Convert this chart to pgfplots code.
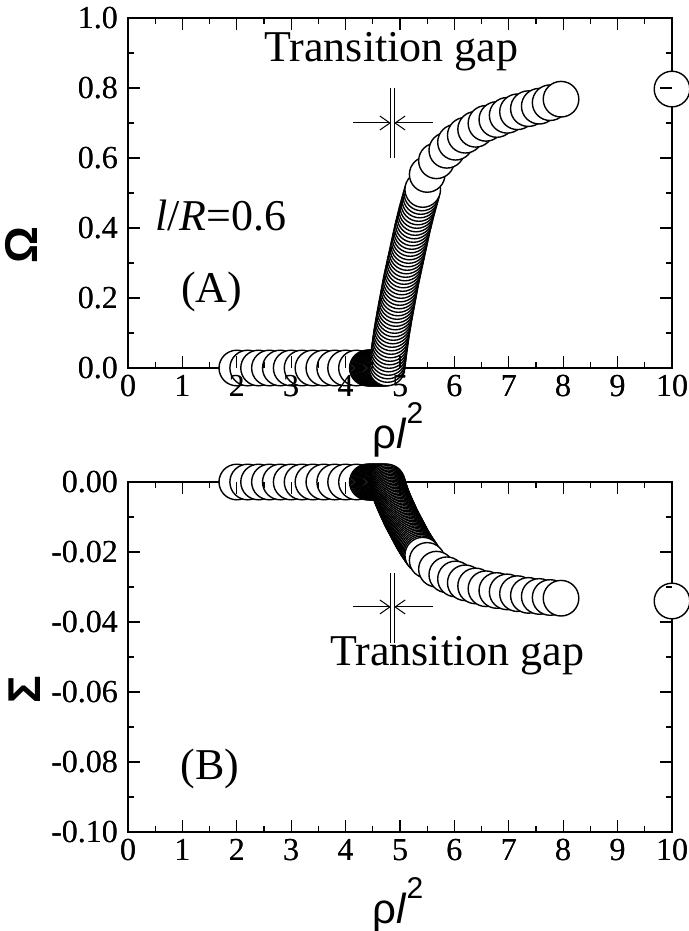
\documentclass[border=0pt]{standalone}
\usepackage{fontspec}
\setmainfont{Liberation Serif}
\newfontfamily\sans{Liberation Sans}
\usepackage{pgfplots}
\pgfplotsset{compat=1.18}
\usetikzlibrary{arrows.meta}

\pgfplotstableread{
x y
2.0 0
2.2 0
2.4 0
2.6 0
2.8 0
3.0 0
3.2 0
3.4 0
3.6 0
3.8 0
4.0 0
4.2 0
4.4 0
4.42 0
4.44 0
4.46 0
4.48 0
4.50 0
4.52 0
4.54 0
4.56 0
4.58 0
4.60 0
4.62 0
4.64 0
4.66 0
4.68 0
4.70 0
4.72 0
4.74 0
4.760 0.00
4.768 0.01
4.776 0.02
4.784 0.03
4.792 0.04
4.800 0.05
4.809 0.06
4.818 0.07
4.827 0.08
4.836 0.09
4.845 0.10
4.856 0.11
4.867 0.12
4.878 0.13
4.889 0.14
4.900 0.15
4.912 0.16
4.924 0.17
4.936 0.18
4.948 0.19
4.960 0.20
4.972 0.21
4.984 0.22
4.996 0.23
5.008 0.24
5.020 0.25
5.034 0.26
5.048 0.27
5.062 0.28
5.076 0.29
5.090 0.30
5.104 0.31
5.118 0.32
5.132 0.33
5.146 0.34
5.160 0.35
5.174 0.36
5.188 0.37
5.202 0.38
5.216 0.39
5.230 0.40
5.246 0.41
5.262 0.42
5.278 0.43
5.294 0.44
5.310 0.45
5.328 0.46
5.346 0.47
5.364 0.48
5.382 0.49
5.400 0.50
5.418 0.51
5.50 0.553
5.67 0.592
5.86 0.622
6.02 0.645
6.20 0.665
6.39 0.682
6.58 0.699
6.78 0.710
6.97 0.722
7.16 0.732
7.36 0.741
7.56 0.748
7.76 0.758
7.96 0.768
10.0 0.797
}\omegadata

\pgfplotstableread{
x y
2.0 0
2.2 0
2.4 0
2.6 0
2.8 0
3.0 0
3.2 0
3.4 0
3.6 0
3.8 0
4.0 0
4.2 0
4.4 0
4.42 0
4.44 0
4.46 0
4.48 0
4.50 0
4.52 0
4.54 0
4.56 0
4.58 0
4.60 0
4.62 0
4.64 0
4.66 0
4.68 0
4.70 0
4.72 0
4.74 0
4.760 0
4.768 -0.00041
4.776 -0.00082
4.784 -0.00123
4.792 -0.00164
4.800 -0.00205
4.809 -0.00246
4.818 -0.00287
4.827 -0.00328
4.836 -0.00369
4.845 -0.0041
4.856 -0.00451
4.867 -0.00492
4.878 -0.00533
4.889 -0.00574
4.900 -0.00615
4.912 -0.00656
4.924 -0.00697
4.936 -0.00738
4.948 -0.00779
4.960 -0.0082
4.972 -0.00861
4.984 -0.00902
4.996 -0.00943
5.008 -0.00984
5.020 -0.01025
5.034 -0.01066
5.048 -0.01107
5.062 -0.01148
5.076 -0.01189
5.090 -0.0123
5.104 -0.01271
5.118 -0.01312
5.132 -0.01353
5.146 -0.01394
5.160 -0.01435
5.174 -0.01476
5.188 -0.01517
5.202 -0.01558
5.216 -0.01599
5.230 -0.0164
5.246 -0.01681
5.262 -0.01722
5.278 -0.01763
5.294 -0.01804
5.310 -0.01845
5.328 -0.01886
5.346 -0.01927
5.364 -0.01968
5.382 -0.02009
5.400 -0.0205
5.418 -0.0209
5.50 -0.0224
5.67 -0.0249
5.86 -0.0265
6.02 -0.0277
6.20 -0.0288
6.39 -0.0297
6.58 -0.0305
6.78 -0.0310
6.97 -0.0314
7.16 -0.0319
7.36 -0.0324
7.56 -0.0327
7.76 -0.0330
7.96 -0.0332
10.0 -0.0340
}\sigmadata

\pgfplotsset{
  panel/.style={
    scale only axis, width=272pt, height=175pt,
    xmin=0, xmax=10,
    xtick={0,1,2,3,4,5,6,7,8,9,10},
    xticklabels={0,1,2,3,4,5,6,7,8,9,10},
    minor x tick num=1, minor y tick num=1,
    tick align=inside,
    major tick length=6pt, minor tick length=3pt,
    xtick pos=both, ytick pos=both,
    axis line style={line width=0.8pt},
    every tick/.style={black, line width=0.6pt},
    tick label style={font=\fontsize{16}{16}\selectfont},
    xticklabel style={yshift=0pt},
    yticklabel style={xshift=-1.5pt},
    clip=false,
  },
  overlay/.style={axis line style={draw=none}},
  toppanel/.style={panel, at={(64pt,-184pt)}, anchor=south west,
    ymin=0, ymax=1,
    ytick={0,0.2,0.4,0.6,0.8,1.0},
    yticklabels={0.0,0.2,0.4,0.6,0.8,1.0}},
  botpanel/.style={panel, at={(64pt,-416pt)}, anchor=south west,
    ymin=-0.1, ymax=0,
    ytick={-0.1,-0.08,-0.06,-0.04,-0.02,0},
    yticklabels={-0.10,-0.08,-0.06,-0.04,-0.02,0.00}},
  circ/.style={only marks, mark=*, mark size=8.9pt,
    mark options={fill=white, draw=black, line width=0.7pt}},
}

\begin{document}
\begin{tikzpicture}
\begin{axis}[toppanel]
\addplot[circ] table {\omegadata};
\draw[line width=0.6pt] (axis cs:4.83,0.60) -- (axis cs:4.83,0.80);
\draw[line width=0.6pt] (axis cs:4.895,0.60) -- (axis cs:4.895,0.80);
\draw[line width=0.5pt, -{Straight Barb[length=5pt,width=7pt]}] (axis cs:4.14,0.70) -- (axis cs:4.83,0.70);
\draw[line width=0.5pt, -{Straight Barb[length=5pt,width=7pt]}] (axis cs:5.6,0.70) -- (axis cs:4.895,0.70);
\node[font=\fontsize{22}{22}\selectfont] at (axis cs:4.84,0.903) {Transition gap};
\node[font=\fontsize{22}{22}\selectfont] at (axis cs:1.71,0.437) {\textit{l}/\textit{R}=0.6};
\node[font=\fontsize{22}{22}\selectfont] at (axis cs:1.54,0.217) {(A)};
\end{axis}
\begin{axis}[toppanel, overlay]
\end{axis}

\begin{axis}[botpanel]
\addplot[circ] table {\sigmadata};
\draw[line width=0.6pt] (axis cs:4.83,-0.026) -- (axis cs:4.83,-0.046);
\draw[line width=0.6pt] (axis cs:4.895,-0.026) -- (axis cs:4.895,-0.046);
\draw[line width=0.5pt, -{Straight Barb[length=5pt,width=7pt]}] (axis cs:4.14,-0.0357) -- (axis cs:4.83,-0.0357);
\draw[line width=0.5pt, -{Straight Barb[length=5pt,width=7pt]}] (axis cs:5.6,-0.0357) -- (axis cs:4.895,-0.0357);
\node[font=\fontsize{22}{22}\selectfont] at (axis cs:6.05,-0.0496) {Transition gap};
\node[font=\fontsize{22}{22}\selectfont] at (axis cs:1.51,-0.082) {(B)};
\end{axis}
\begin{axis}[botpanel, overlay]
\end{axis}

\node[rotate=90, font=\sans\bfseries\fontsize{23}{23}\selectfont] at (10.5pt,-122.5pt) {Ω};
\node[rotate=90, font=\sans\bfseries\fontsize{23}{23}\selectfont] at (12.5pt,-345pt) {Σ};
\node[font=\sans\fontsize{21}{21}\selectfont] at (199pt,-215pt) {ρ\textit{l}\raisebox{1.1ex}{\fontsize{15}{15}\selectfont 2}};
\node[font=\sans\fontsize{21}{21}\selectfont] at (199pt,-452.5pt) {ρ\textit{l}\raisebox{1.1ex}{\fontsize{15}{15}\selectfont 2}};

\pgfresetboundingbox
\useasboundingbox (0,0) rectangle (344.5pt,-465.5pt);
\end{tikzpicture}
\end{document}
